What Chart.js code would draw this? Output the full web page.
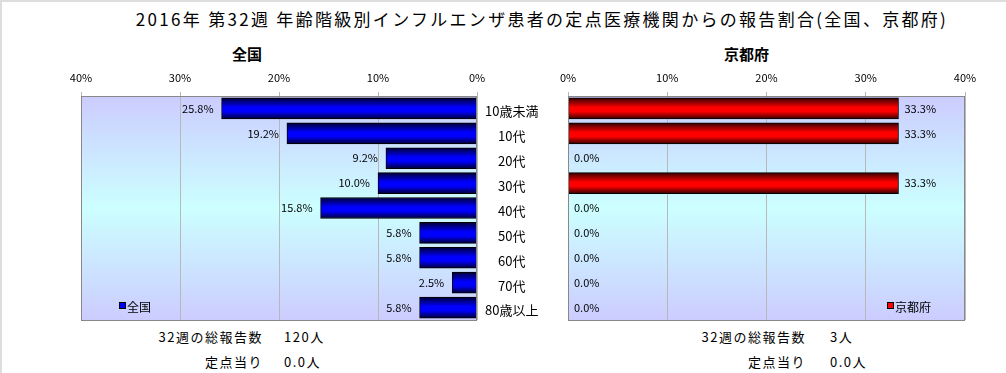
<!DOCTYPE html>
<html lang="ja">
<head>
<meta charset="utf-8">
<script src="https://cdn.jsdelivr.net/npm/chart.js@4"></script>
<style>
  html, body { margin: 0; padding: 0; background: #fff; }
  body {
    width: 1006px; height: 373px; position: relative; overflow: hidden;
    font-family: "Noto Sans CJK JP", "Noto Sans", sans-serif; color: #000;
    box-sizing: border-box; border-left: 2px solid #ddd; border-top: 2px solid #ddd;
  }
  .txt { position: absolute; white-space: nowrap; line-height: 1; }
  #title { left: 0; width: 1080px; top: 8px; text-align: center; font-size: 17px; letter-spacing: 2.3px; }
  .sub { top: 44px; font-size: 15px; font-weight: bold; }
  .foot { font-size: 13px; letter-spacing: 1.5px; }
  canvas { position: absolute; top: 0; }
</style>
</head>
<body>
<div id="title" class="txt">2016年 第32週 年齢階級別インフルエンザ患者の定点医療機関からの報告割合(全国、京都府)</div>
<div class="txt sub" style="left:230px">全国</div>
<div class="txt sub" style="left:722px">京都府</div>

<div class="txt foot" style="right:743px;top:328px">32週の総報告数</div>
<div class="txt foot" style="left:282px;top:328px">120人</div>
<div class="txt foot" style="right:743px;top:353px">定点当り</div>
<div class="txt foot" style="left:282px;top:353px">0.0人</div>

<div class="txt foot" style="right:200px;top:328px">32週の総報告数</div>
<div class="txt foot" style="left:828px;top:328px">3人</div>
<div class="txt foot" style="right:200px;top:353px">定点当り</div>
<div class="txt foot" style="left:828px;top:353px">0.0人</div>

<canvas id="nationalChart" style="left:0" width="566" height="373"></canvas>
<canvas id="kyotoChart" style="left:540px" width="466" height="373"></canvas>

<script>
const ageGroups = ['10歳未満', '10代', '20代', '30代', '40代', '50代', '60代', '70代', '80歳以上'];
const nationalShare = [25.8, 19.2, 9.2, 10.0, 15.8, 5.8, 5.8, 2.5, 5.8];
const kyotoShare = [33.3, 33.3, 0.0, 33.3, 0.0, 0.0, 0.0, 0.0, 0.0];
const axisTicks = [0, 10, 20, 30, 40];

const FONT = '"Noto Sans CJK JP", "Noto Sans", sans-serif';
const BAR_THICKNESS = 21;

function byId(id) {
  return document.getElementById(id);
}

function barGradient(dark, bright) {
  return (ctx) => {
    const chart = ctx.chart;
    const yScale = chart.scales.y;
    if (!yScale || ctx.dataIndex === undefined) return bright;
    const center = yScale.getPixelForValue(ctx.dataIndex);
    if (!Number.isFinite(center)) return bright;
    const top = center - BAR_THICKNESS / 2;
    const g = chart.ctx.createLinearGradient(0, top, 0, top + BAR_THICKNESS);
    g.addColorStop(0, dark);
    g.addColorStop(0.45, bright);
    g.addColorStop(0.65, bright);
    g.addColorStop(1, dark);
    return g;
  };
}

// plot background gradient and frame
const plotFrame = {
  id: 'plotFrame',
  beforeDraw(chart) {
    const { ctx, chartArea: a } = chart;
    const g = ctx.createLinearGradient(0, a.top, 0, a.bottom);
    g.addColorStop(0, '#ccccff');
    g.addColorStop(0.5, '#ccffff');
    g.addColorStop(1, '#ccccff');
    ctx.save();
    ctx.fillStyle = g;
    ctx.fillRect(a.left, a.top, a.right - a.left, a.bottom - a.top);
    ctx.restore();
  },
  afterDraw(chart) {
    const { ctx, chartArea: a } = chart;
    ctx.save();
    ctx.strokeStyle = '#888888';
    ctx.lineWidth = 1;
    ctx.strokeRect(Math.round(a.left) + 0.5, Math.round(a.top) + 0.5,
      Math.round(a.right - a.left) - 1, Math.round(a.bottom - a.top));
    ctx.restore();
  },
};

// value labels next to each bar end, plus the in-plot legend
const barLabels = {
  id: 'barLabels',
  afterDatasetsDraw(chart, args, opts) {
    const { ctx, chartArea: a } = chart;
    const meta = chart.getDatasetMeta(0);
    const values = chart.data.datasets[0].data;
    ctx.save();
    ctx.font = '11px ' + FONT;
    ctx.fillStyle = '#000';
    ctx.textBaseline = 'middle';
    meta.data.forEach((bar, i) => {
      const text = values[i].toFixed(1) + '%';
      if (opts.side === 'left') {
        ctx.textAlign = 'right';
        ctx.fillText(text, bar.x - 8, bar.y);
      } else {
        ctx.textAlign = 'left';
        ctx.fillText(text, bar.x + 6, bar.y);
      }
    });
    // legend
    ctx.font = '12px ' + FONT;
    ctx.textAlign = 'left';
    const lx = opts.legendX;
    const ly = a.bottom - 14;
    ctx.fillStyle = opts.legendColor;
    ctx.fillRect(lx, ly - 3, 6, 6);
    ctx.strokeStyle = '#000';
    ctx.lineWidth = 1;
    ctx.strokeRect(lx + 0.5, ly - 3.5, 6, 6);
    ctx.fillStyle = '#000';
    ctx.fillText(opts.legendText, lx + 8, ly + 1);
    ctx.restore();
  },
};

function buildBarChart(canvasId, values, cfg) {
  return new Chart(byId(canvasId), {
    type: 'bar',
    data: {
      labels: ageGroups,
      datasets: [
        {
          data: values,
          backgroundColor: barGradient(cfg.dark, cfg.bright),
          borderColor: '#000000',
          borderWidth: 1,
          borderSkipped: false,
          barThickness: BAR_THICKNESS,
        },
      ],
    },
    options: {
      indexAxis: 'y',
      responsive: false,
      animation: false,
      events: [],
      layout: { padding: cfg.padding },
      plugins: {
        legend: { display: false },
        tooltip: { enabled: false },
        barLabels: cfg.labels,
      },
      scales: {
        x: {
          position: 'top',
          min: 0,
          max: 40,
          reverse: cfg.reverse,
          afterBuildTicks: (scale) => {
            scale.ticks = axisTicks.map((v) => ({ value: v }));
          },
          afterFit: (scale) => {
            scale.height = 34;
          },
          border: { display: false },
          grid: { color: '#b8b8b8', drawTicks: true, tickLength: 4 },
          ticks: {
            color: '#000',
            font: { family: FONT, size: 11 },
            padding: 8,
            callback: (v) => v + '%',
          },
        },
        y: {
          position: cfg.yPosition,
          display: cfg.showCategories,
          afterFit: (scale) => {
            scale.width = cfg.showCategories ? 91 : 0;
          },
          border: { display: false },
          grid: { display: false },
          ticks: {
            color: '#000',
            crossAlign: 'center',
            padding: 0,
            labelOffset: 3,
            font: { family: FONT, size: 13 },
          },
        },
      },
    },
    plugins: [plotFrame, barLabels],
  });
}

buildBarChart('nationalChart', nationalShare, {
  dark: '#000033',
  bright: '#0000ff',
  reverse: true,
  yPosition: 'right',
  showCategories: true,
  padding: { left: 79, top: 60, bottom: 55, right: 0 },
  labels: { side: 'left', legendX: 117, legendText: '全国', legendColor: '#0000ff' },
});

buildBarChart('kyotoChart', kyotoShare, {
  dark: '#330000',
  bright: '#ff0000',
  reverse: false,
  yPosition: 'left',
  showCategories: false,
  padding: { left: 26, top: 60, bottom: 55, right: 43 },
  labels: { side: 'right', legendX: 345, legendText: '京都府', legendColor: '#ff0000' },
});
</script>
</body>
</html>
